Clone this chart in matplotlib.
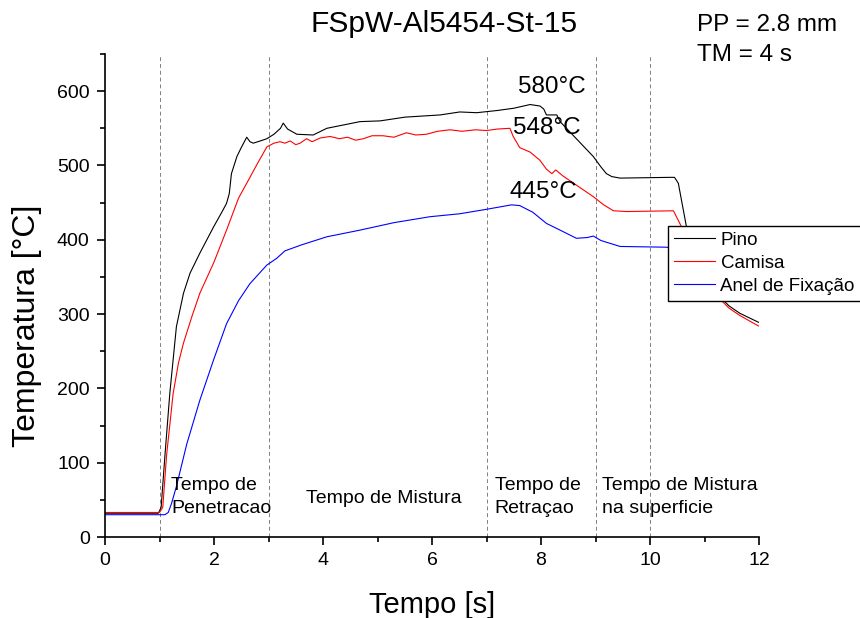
import matplotlib
matplotlib.use("Agg")
import matplotlib.pyplot as plt
from matplotlib.ticker import MultipleLocator

plt.rcParams['font.family'] = ['Liberation Sans', 'DejaVu Sans']

# ---- data ----
t_pino = [0, 0.98, 1.03, 1.10, 1.19, 1.31, 1.44, 1.56, 1.74, 1.99, 2.15, 2.23, 2.28, 2.32,
          2.42, 2.50, 2.60, 2.66, 2.72, 2.85, 2.97, 3.10, 3.22, 3.27, 3.35, 3.52, 3.82, 4.07,
          4.68, 5.05, 5.50, 6.15, 6.51, 6.82, 7.20, 7.50, 7.80, 7.98, 8.05, 8.10, 8.29, 8.35,
          8.96, 9.10, 9.20, 9.30, 9.45, 10.37, 10.45, 10.52, 10.67, 10.90, 11.10, 11.30,
          11.45, 11.65, 11.99]
T_pino = [32, 32, 40, 110, 194, 283, 328, 355, 382, 417, 438, 449, 462, 489,
          512, 524, 538, 532, 530, 533, 536, 542, 550, 557, 549, 542, 541, 550,
          559, 560, 565, 568, 572, 571, 574, 577, 582, 580, 576, 568, 568, 559,
          512, 498, 489, 485, 483, 484, 484, 476, 417, 372, 343, 322,
          311, 301, 289]

t_camisa = [0, 1.00, 1.06, 1.13, 1.25, 1.35, 1.44, 1.60, 1.74, 2.00, 2.23, 2.45, 2.60,
            2.80, 2.97, 3.10, 3.21, 3.30, 3.40, 3.50, 3.58, 3.70, 3.80, 3.95, 4.13, 4.30,
            4.45, 4.60, 4.74, 4.90, 5.10, 5.30, 5.53, 5.70, 5.90, 6.10, 6.33, 6.55, 6.80,
            7.00, 7.20, 7.43, 7.49, 7.61, 7.80, 7.98, 8.10, 8.20, 8.27, 8.40, 8.96, 9.15,
            9.33, 9.57, 10.43, 10.52, 10.58, 10.75, 11.00, 11.30, 11.45, 11.65, 11.99]
T_camisa = [33, 33, 40, 110, 193, 235, 261, 298, 328, 370, 413, 456, 476,
            503, 525, 530, 532, 530, 533, 528, 530, 536, 532, 537, 539, 536,
            538, 534, 536, 540, 540, 538, 544, 541, 542, 546, 548, 546, 548,
            547, 549, 550, 539, 524, 518, 507, 495, 489, 494, 486, 458, 447,
            439, 438, 439, 426, 417, 375, 345, 319, 308, 298, 284]

t_anel = [0, 1.10, 1.16, 1.22, 1.31, 1.50, 1.74, 2.00, 2.23, 2.45, 2.66, 2.97, 3.15,
          3.30, 3.60, 4.07, 4.68, 5.30, 5.96, 6.51, 7.00, 7.46, 7.61, 7.85, 8.10, 8.35,
          8.65, 8.85, 8.96, 9.10, 9.45, 10.30, 10.50, 10.80, 11.50, 12.00]
T_anel = [30, 30, 33, 45, 68, 125, 184, 240, 287, 318, 341, 366, 375,
          385, 393, 404, 413, 423, 431, 435, 441, 447, 446, 437, 422, 413,
          402, 403, 405, 399, 391, 390, 388, 375, 350, 335]

series_labels = ["Pino", "Camisa", "Anel de Fixação"]
series_colors = ["#000000", "#ff0000", "#0000ff"]

phase_lines = [1, 3, 7, 9, 10]
phase_texts = ["Tempo de\nPenetracao", "Tempo de Mistura", "Tempo de\nRetraçao",
               "Tempo de Mistura\nna superficie"]
phase_text_x = [1.21, 3.69, 7.15, 9.12]

peak_labels = ["580°C", "548°C", "445°C"]
peak_x = [7.58, 7.49, 7.43]
peak_y = [598, 542, 456]

# ---- figure ----
W, H = 860, 618
fig = plt.figure(figsize=(W / 100, H / 100), dpi=100)
ax = fig.add_axes([105 / W, 1 - 537 / H, (759 - 105) / W, (537 - 54) / H])

for tt, TT, lab, col in zip([t_pino, t_camisa, t_anel], [T_pino, T_camisa, T_anel],
                            series_labels, series_colors):
    ax.plot(tt, TT, color=col, lw=0.8, label=lab)

for xv in phase_lines:
    ax.axvline(xv, color="#808080", lw=0.7, ls=(0, (4, 3)), zorder=0)

ax.set_xlim(0, 12)
ax.set_ylim(0, 650)
ax.xaxis.set_major_locator(MultipleLocator(2))
ax.xaxis.set_minor_locator(MultipleLocator(1))
ax.yaxis.set_major_locator(MultipleLocator(100))
ax.yaxis.set_minor_locator(MultipleLocator(50))
ax.spines['top'].set_visible(False)
ax.spines['right'].set_visible(False)
for s in ['left', 'bottom']:
    ax.spines[s].set_linewidth(1.2)
ax.tick_params(which='major', direction='out', length=6, width=1.2, labelsize=14, pad=5)
ax.tick_params(which='minor', direction='out', length=3.5, width=1.2)

# phase texts (baseline of last line)
for i, (txt, xx) in enumerate(zip(phase_texts, phase_text_x)):
    yy = 45.7 if i == 1 else 32.3
    ax.text(xx, yy, txt, fontsize=14, va='baseline', ha='left', linespacing=1.47)

for lab, xx, yy in zip(peak_labels, peak_x, peak_y):
    ax.text(xx, yy, lab, fontsize=17.5, va='baseline', ha='left')

fig.text(444 / W, 1 - 32 / H, "FSpW-Al5454-St-15", fontsize=21.5, ha='center', va='baseline')
fig.text(697 / W, 1 - 31 / H, "PP = 2.8 mm", fontsize=17.5, ha='left', va='baseline')
fig.text(697 / W, 1 - 61 / H, "TM = 4 s", fontsize=17.5, ha='left', va='baseline')

fig.text(432 / W, 1 - 613 / H, "Tempo [s]", fontsize=21, ha='center', va='baseline')
fig.text(27 / W, 1 - 326 / H, "Temperatura [°C]", fontsize=23, ha='center', va='center',
         rotation=90)

leg = ax.legend(loc='upper left', bbox_to_anchor=(668 / W, 1 - 226 / H),
                bbox_transform=fig.transFigure, borderaxespad=0, fontsize=13.5,
                fancybox=False, framealpha=1, edgecolor='black', handlelength=2.2,
                handletextpad=0.3, labelspacing=0.32, borderpad=0.3)
leg.get_frame().set_linewidth(1.0)

fig.savefig("out.png", dpi=100)
